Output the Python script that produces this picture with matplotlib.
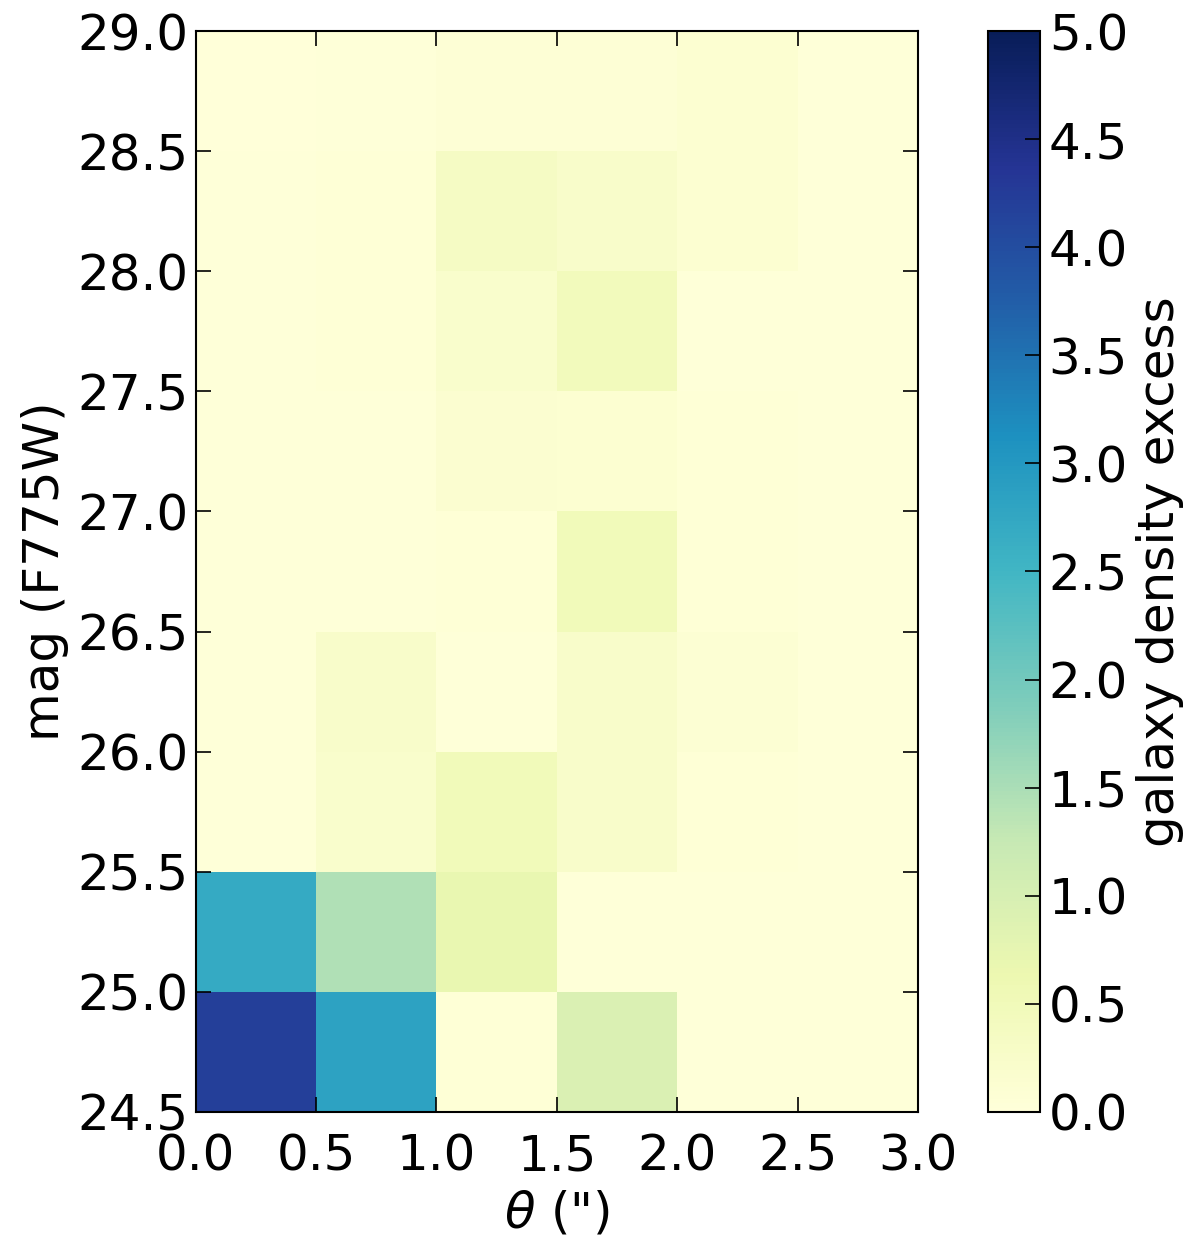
import numpy as np
import matplotlib
matplotlib.use('Agg')
import matplotlib.pyplot as plt

# bordes de los bins
theta_edges = [0.0, 0.5, 1.0, 1.5, 2.0, 2.5, 3.0]
mag_edges = [24.5, 25.0, 25.5, 26.0, 26.5, 27.0, 27.5, 28.0, 28.5, 29.0]

# exceso de densidad, filas de mag 24.5 (abajo) a 29.0 (arriba)
row_245 = [4.2, 2.85, 0.05, 0.95, 0.03, 0.03]
row_250 = [2.7, 1.45, 0.7, 0.03, 0.03, 0.02]
row_255 = [0.02, 0.2, 0.5, 0.25, 0.05, 0.03]
row_260 = [0.02, 0.25, 0.03, 0.25, 0.1, 0.02]
row_265 = [0.02, 0.03, 0.05, 0.5, 0.05, 0.02]
row_270 = [0.02, 0.03, 0.15, 0.12, 0.05, 0.02]
row_275 = [0.02, 0.04, 0.2, 0.45, 0.03, 0.02]
row_280 = [0.02, 0.04, 0.35, 0.25, 0.12, 0.03]
row_285 = [0.0, 0.03, 0.06, 0.06, 0.12, 0.03]

excess = np.array([row_245, row_250, row_255, row_260, row_265,
                   row_270, row_275, row_280, row_285])

plt.rcParams['font.size'] = 36
plt.rcParams['xtick.direction'] = 'in'
plt.rcParams['ytick.direction'] = 'in'

fig = plt.figure(figsize=(12, 12.41), dpi=100)
ax = fig.add_axes([0.163, 0.104, 0.602, 0.871])
cax = fig.add_axes([0.823, 0.104, 0.044, 0.871])

mesh = ax.pcolormesh(theta_edges, mag_edges, excess, cmap='YlGnBu', vmin=0, vmax=5)
ax.set_xlim(0, 3)
ax.set_ylim(24.5, 29)
ax.set_xticks(theta_edges)
ax.set_yticks(mag_edges)
ax.set_xticklabels(['%.1f' % t for t in theta_edges])
ax.set_yticklabels(['%.1f' % m for m in mag_edges])
ax.tick_params(top=True, right=True, length=11, width=1.2)
ax.tick_params(axis='x', pad=15)
ax.tick_params(axis='y', pad=5)
for s in ax.spines.values():
    s.set_linewidth(1.5)
ax.set_xlabel(r'$\theta$ (")', labelpad=6)
ax.set_ylabel('mag (F775W)', labelpad=6)

cb = fig.colorbar(mesh, cax=cax, ticks=np.arange(0, 5.01, 0.5))
cb.ax.set_yticklabels(['%.1f' % v for v in np.arange(0, 5.01, 0.5)])
cb.ax.tick_params(direction='in', length=11, width=1.2, pad=6)
cb.outline.set_linewidth(1.5)
cb.set_label('galaxy density excess', labelpad=6)

plt.savefig('out.png', dpi=100)
